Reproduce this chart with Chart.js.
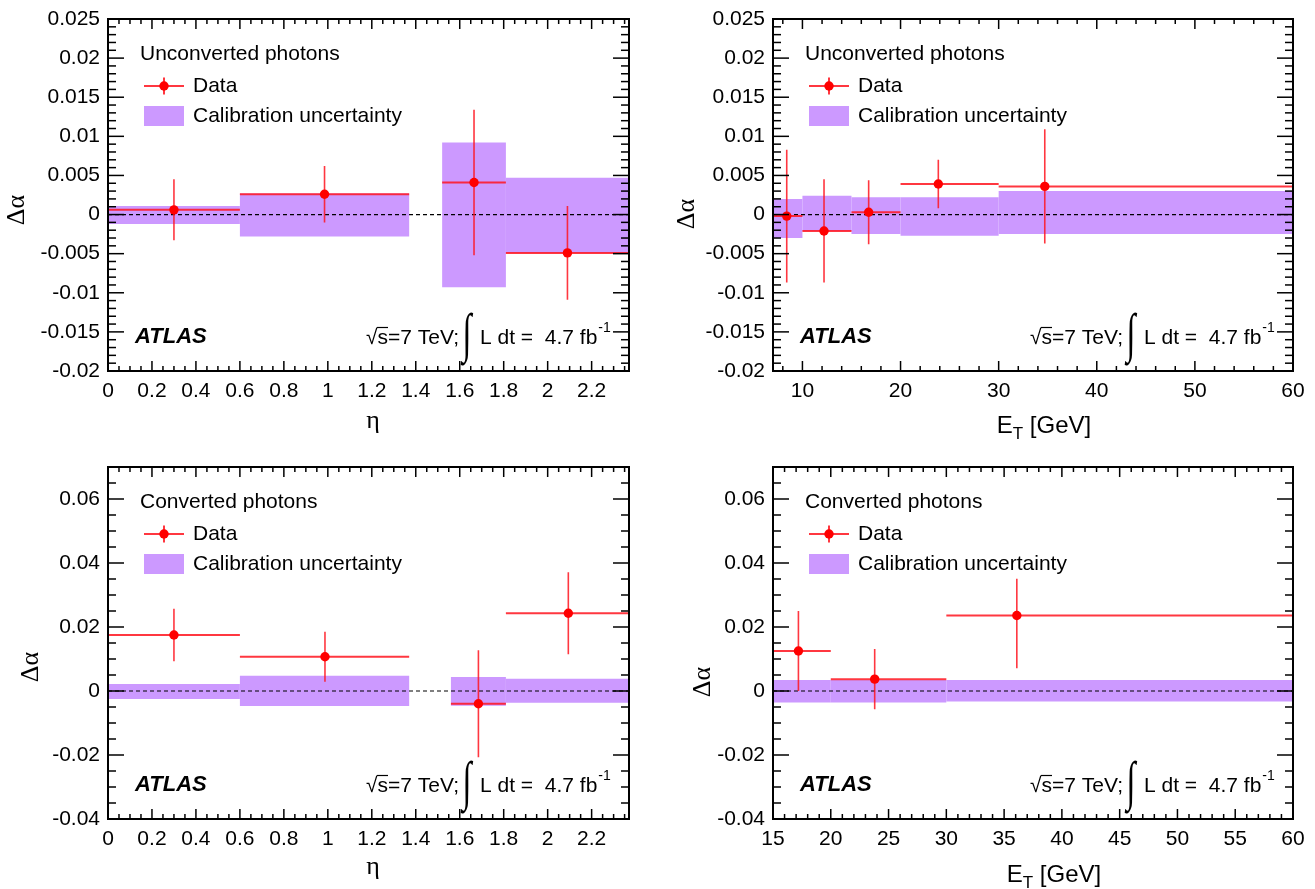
<!DOCTYPE html>
<html>
<head>
<meta charset="utf-8">
<title>Delta alpha vs eta and ET</title>
<script src="https://cdn.jsdelivr.net/npm/chart.js@4.4.0/dist/chart.umd.min.js"></script>
<style>
  html, body { margin: 0; padding: 0; background: #fff; }
  body { width: 1315px; height: 889px; position: relative; overflow: hidden; }
  canvas { position: absolute; }
</style>
</head>
<body>
<canvas id="c1" width="657" height="445" style="left:0;top:0"></canvas>
<canvas id="c2" width="658" height="445" style="left:657px;top:0"></canvas>
<canvas id="c3" width="657" height="444" style="left:0;top:445px"></canvas>
<canvas id="c4" width="658" height="444" style="left:657px;top:445px"></canvas>
<script>
// ---- data ----

// top left: unconverted photons vs eta
const uncEtaBinLo = [0, 0.6, 1.52, 1.81];
const uncEtaBinHi = [0.6, 1.37, 1.81, 2.37];
const uncEtaX = [0.30, 0.985, 1.665, 2.09];
const uncEtaY = [0.0006, 0.0026, 0.0041, -0.0049];
const uncEtaErrUp = [0.0039, 0.0036, 0.0093, 0.0060];
const uncEtaErrDn = [0.0039, 0.0036, 0.0093, 0.0060];
const uncEtaCalibUp = [0.0011, 0.0027, 0.0092, 0.0047];
const uncEtaCalibDn = [-0.0012, -0.0028, -0.0093, -0.0049];

// top right: unconverted photons vs ET
const uncEtBinLo = [7, 10, 15, 20, 30];
const uncEtBinHi = [10, 15, 20, 30, 60];
const uncEtX = [8.4, 12.2, 16.75, 23.85, 34.7];
const uncEtY = [-0.0002, -0.0021, 0.0003, 0.0039, 0.0036];
const uncEtErrUp = [0.0085, 0.0066, 0.0041, 0.0031, 0.0073];
const uncEtErrDn = [0.0085, 0.0066, 0.0041, 0.0031, 0.0073];
const uncEtCalibUp = [0.0020, 0.0024, 0.0022, 0.0022, 0.0030];
const uncEtCalibDn = [-0.0030, -0.0021, -0.0025, -0.0027, -0.0025];

// bottom left: converted photons vs eta
const convEtaBinLo = [0, 0.6, 1.56, 1.81];
const convEtaBinHi = [0.6, 1.37, 1.81, 2.37];
const convEtaX = [0.30, 0.987, 1.685, 2.094];
const convEtaY = [0.0175, 0.0107, -0.0040, 0.0243];
const convEtaErrUp = [0.0082, 0.0078, 0.0167, 0.0128];
const convEtaErrDn = [0.0082, 0.0078, 0.0167, 0.0128];
const convEtaCalibUp = [0.0022, 0.0048, 0.0044, 0.0038];
const convEtaCalibDn = [-0.0025, -0.0047, -0.0046, -0.0037];

// bottom right: converted photons vs ET
const convEtBinLo = [15, 20, 30];
const convEtBinHi = [20, 30, 60];
const convEtX = [17.2, 23.8, 36.1];
const convEtY = [0.0125, 0.0037, 0.0236];
const convEtErrUp = [0.0125, 0.0094, 0.0115];
const convEtErrDn = [0.0125, 0.0094, 0.0165];
const convEtCalibUp = [0.0034, 0.0034, 0.0034];
const convEtCalibDn = [-0.0036, -0.0036, -0.0033];

// tick labels
const etaTickLabels = ['0', '0.2', '0.4', '0.6', '0.8', '1', '1.2', '1.4', '1.6', '1.8', '2', '2.2'];
const uncEtTickLabels = ['10', '20', '30', '40', '50', '60'];
const convEtTickLabels = ['15', '20', '25', '30', '35', '40', '45', '50', '55', '60'];
const uncYTickLabels = ['-0.02', '-0.015', '-0.01', '-0.005', '0', '0.005', '0.01', '0.015', '0.02', '0.025'];
const convYTickLabels = ['-0.04', '-0.02', '0', '0.02', '0.04', '0.06'];

const SANS = '"Liberation Sans", Arial, Helvetica, sans-serif';
const SERIF = '"Liberation Serif", "Times New Roman", serif';
const RED = '#ff0000';
const LINE_RED = 'rgba(255, 20, 30, 0.85)';
const BAND = '#cc99ff';

// build the datasets for one panel from its arrays
function buildDatasets(d, xMin, xMax) {
    const sets = [];
    // calibration uncertainty boxes, one closed shape per bin
    for (let i = 0; i < d.lo.length; i++) {
        sets.push({
            data: [
                {x: d.lo[i], y: d.cDn[i]}, {x: d.lo[i], y: d.cUp[i]},
                {x: d.hi[i], y: d.cUp[i]}, {x: d.hi[i], y: d.cDn[i]},
                {x: d.lo[i], y: d.cDn[i]}
            ],
            fill: 'shape',
            backgroundColor: BAND,
            borderColor: 'rgba(0,0,0,0)',
            borderWidth: 0,
            pointRadius: 0,
            order: 4
        });
    }
    // dashed zero line
    sets.push({
        data: [{x: xMin, y: 0}, {x: xMax, y: 0}],
        borderColor: '#000',
        borderWidth: 1.2,
        borderDash: [4, 3],
        pointRadius: 0,
        fill: false,
        order: 3
    });
    // horizontal bars (bin widths) and vertical error bars, broken with nulls
    const h = [];
    const v = [];
    for (let i = 0; i < d.x.length; i++) {
        h.push({x: d.lo[i], y: d.y[i]}, {x: d.hi[i], y: d.y[i]}, {x: d.hi[i], y: null});
        v.push({x: d.x[i], y: d.y[i] - d.eDn[i]}, {x: d.x[i], y: d.y[i] + d.eUp[i]}, {x: d.x[i], y: null});
    }
    sets.push({data: h, borderColor: LINE_RED, borderWidth: 2, pointRadius: 0, spanGaps: false, fill: false, order: 2});
    sets.push({data: v, borderColor: LINE_RED, borderWidth: 1.6, pointRadius: 0, spanGaps: false, fill: false, order: 1});
    // markers
    sets.push({
        data: d.x.map((x, i) => ({x: x, y: d.y[i]})),
        showLine: false,
        pointRadius: 4.7,
        pointBackgroundColor: RED,
        pointBorderWidth: 0,
        order: 0
    });
    return sets;
}

function line(ctx, x1, y1, x2, y2) {
    ctx.beginPath();
    ctx.moveTo(x1, y1);
    ctx.lineTo(x2, y2);
    ctx.stroke();
}

// ROOT-like frame, ticks, labels and annotations
function drawDecor(chart, p) {
    const ctx = chart.ctx;
    const a = chart.chartArea;
    const xs = chart.scales.x;
    const ys = chart.scales.y;
    ctx.save();
    ctx.strokeStyle = '#000';
    ctx.fillStyle = '#000';

    // minor + major ticks on all four sides
    ctx.lineWidth = 1.5;
    const xMaj = p.xLabels.map(Number);
    const yMaj = p.yLabels.map(Number);
    const isMaj = (arr, v, s) => arr.some(m => Math.abs(m - v) < s * 0.01);
    for (let k = Math.ceil(xs.min / p.xMinor - 1e-6); k * p.xMinor <= xs.max + 1e-9; k++) {
        const v = k * p.xMinor;
        const len = isMaj(xMaj, v, p.xMinor) ? 10 : 5;
        const px = xs.getPixelForValue(v);
        line(ctx, px, a.bottom, px, a.bottom - len);
        line(ctx, px, a.top, px, a.top + len);
    }
    for (let k = Math.ceil(ys.min / p.yMinor - 1e-6); k * p.yMinor <= ys.max + 1e-9; k++) {
        const v = k * p.yMinor;
        const len = isMaj(yMaj, v, p.yMinor) ? 16 : 8;
        const py = ys.getPixelForValue(v);
        line(ctx, a.left, py, a.left + len, py);
        line(ctx, a.right, py, a.right - len, py);
    }
    ctx.lineWidth = 2;
    ctx.strokeRect(a.left, a.top, a.right - a.left, a.bottom - a.top);

    // tick labels
    ctx.font = '21px ' + SANS;
    ctx.textBaseline = 'middle';
    ctx.textAlign = 'center';
    p.xLabels.forEach(s => ctx.fillText(s, xs.getPixelForValue(Number(s)), a.bottom + 20));
    ctx.textAlign = 'right';
    p.yLabels.forEach(s => ctx.fillText(s, a.left - 8, ys.getPixelForValue(Number(s))));

    // y title
    ctx.save();
    ctx.translate(a.left + p.yTitle[0], a.top + p.yTitle[1]);
    ctx.rotate(-Math.PI / 2);
    ctx.textAlign = 'center';
    ctx.font = '26px ' + SERIF;
    ctx.fillText('\u0394\u03b1', 0, 0);
    ctx.restore();

    // x title
    const tx = a.left + p.xTitle[0];
    const ty = a.bottom + p.xTitle[1];
    if (p.xTitleKind === 'eta') {
        ctx.textAlign = 'center';
        ctx.font = '26px ' + SERIF;
        ctx.fillText('\u03b7', tx, ty - 3);
    } else {
        ctx.font = '24px ' + SANS;
        const wE = ctx.measureText('E').width;
        const wG = ctx.measureText(' [GeV]').width;
        ctx.font = '17px ' + SANS;
        const wT = ctx.measureText('T').width;
        let x0 = tx - (wE + wT + wG) / 2;
        ctx.textAlign = 'left';
        ctx.font = '24px ' + SANS;
        ctx.fillText('E', x0, ty);
        ctx.font = '17px ' + SANS;
        ctx.fillText('T', x0 + wE, ty + 8);
        ctx.font = '24px ' + SANS;
        ctx.fillText(' [GeV]', x0 + wE + wT, ty);
    }

    // legend
    const lx = a.left, ly = a.top;
    ctx.textAlign = 'left';
    ctx.font = '21px ' + SANS;
    ctx.fillText(p.title, lx + 32, ly + 35);
    ctx.strokeStyle = LINE_RED;
    ctx.lineWidth = 2;
    line(ctx, lx + 36, ly + 67, lx + 76, ly + 67);
    line(ctx, lx + 56, ly + 58.5, lx + 56, ly + 75.5);
    ctx.fillStyle = RED;
    ctx.beginPath();
    ctx.arc(lx + 56, ly + 67, 4.7, 0, Math.PI * 2);
    ctx.fill();
    ctx.fillStyle = BAND;
    ctx.fillRect(lx + 36, ly + 87, 40, 20);
    ctx.fillStyle = '#000';
    ctx.fillText('Data', lx + 85, ly + 67);
    ctx.fillText('Calibration uncertainty', lx + 85, ly + 97);

    // ATLAS label
    ctx.font = 'italic bold 22px ' + SANS;
    ctx.fillText('ATLAS', lx + 27, ly + 318);

    // luminosity label
    const rx = a.right;
    const yy = ly + 319;
    ctx.font = '21px ' + SANS;
    let cx = rx - 263;
    ctx.fillText('\u221a', cx, yy);
    cx += ctx.measureText('\u221a').width;
    const sW = ctx.measureText('s').width;
    ctx.fillText('s', cx, yy);
    ctx.strokeStyle = '#000';
    ctx.lineWidth = 1.2;
    line(ctx, cx - 0.5, yy - 10.5, cx + sW, yy - 10.5);
    cx += sW;
    ctx.fillText('=7 TeV;', cx, yy);
    ctx.save();
    ctx.font = '30px ' + SERIF;
    ctx.translate(rx - 162, yy - 1);
    ctx.scale(1.1, 1.8);
    ctx.textAlign = 'center';
    ctx.fillText('\u222b', 0, 0);
    ctx.restore();
    ctx.font = '21px ' + SANS;
    const main = 'L dt =  4.7 fb';
    ctx.fillText(main, rx - 149, yy);
    const wm = ctx.measureText(main).width;
    ctx.font = '14px ' + SANS;
    ctx.fillText('-1', rx - 149 + wm + 1, yy - 10);

    ctx.restore();
}

function makePanel(id, d, p) {
    const ctx = document.getElementById(id);
    return new Chart(ctx, {
        type: 'line',
        data: {datasets: buildDatasets(d, p.xMin, p.xMax)},
        options: {
            responsive: false,
            animation: false,
            events: [],
            layout: {padding: p.pad},
            scales: {
                x: {type: 'linear', min: p.xMin, max: p.xMax, display: false},
                y: {type: 'linear', min: p.yMin, max: p.yMax, display: false}
            },
            plugins: {legend: {display: false}, tooltip: {enabled: false}, title: {display: false}}
        },
        plugins: [{id: 'rootDecor', afterDraw: chart => drawDecor(chart, p)}]
    });
}

makePanel('c1',
    {lo: uncEtaBinLo, hi: uncEtaBinHi, x: uncEtaX, y: uncEtaY, eUp: uncEtaErrUp, eDn: uncEtaErrDn, cUp: uncEtaCalibUp, cDn: uncEtaCalibDn},
    {pad: {left: 108, top: 19, right: 28, bottom: 74}, xMin: 0, xMax: 2.37, yMin: -0.02, yMax: 0.025,
     xLabels: etaTickLabels, yLabels: uncYTickLabels, xMinor: 0.05, yMinor: 0.001,
     title: 'Unconverted photons', xTitleKind: 'eta', xTitle: [265, 53], yTitle: [-91, 191]});

makePanel('c2',
    {lo: uncEtBinLo, hi: uncEtBinHi, x: uncEtX, y: uncEtY, eUp: uncEtErrUp, eDn: uncEtErrDn, cUp: uncEtCalibUp, cDn: uncEtCalibDn},
    {pad: {left: 116, top: 19, right: 22, bottom: 74}, xMin: 7, xMax: 60, yMin: -0.02, yMax: 0.025,
     xLabels: uncEtTickLabels, yLabels: uncYTickLabels, xMinor: 2, yMinor: 0.001,
     title: 'Unconverted photons', xTitleKind: 'et', xTitle: [271, 55], yTitle: [-86, 195]});

makePanel('c3',
    {lo: convEtaBinLo, hi: convEtaBinHi, x: convEtaX, y: convEtaY, eUp: convEtaErrUp, eDn: convEtaErrDn, cUp: convEtaCalibUp, cDn: convEtaCalibDn},
    {pad: {left: 108, top: 22, right: 28, bottom: 70}, xMin: 0, xMax: 2.37, yMin: -0.04, yMax: 0.07,
     xLabels: etaTickLabels, yLabels: convYTickLabels, xMinor: 0.05, yMinor: 0.005,
     title: 'Converted photons', xTitleKind: 'eta', xTitle: [265, 51], yTitle: [-77, 200]});

makePanel('c4',
    {lo: convEtBinLo, hi: convEtBinHi, x: convEtX, y: convEtY, eUp: convEtErrUp, eDn: convEtErrDn, cUp: convEtCalibUp, cDn: convEtCalibDn},
    {pad: {left: 116, top: 22, right: 22, bottom: 70}, xMin: 15, xMax: 60, yMin: -0.04, yMax: 0.07,
     xLabels: convEtTickLabels, yLabels: convYTickLabels, xMinor: 1, yMinor: 0.005,
     title: 'Converted photons', xTitleKind: 'et', xTitle: [281, 56], yTitle: [-70, 215]});
</script>
</body>
</html>
